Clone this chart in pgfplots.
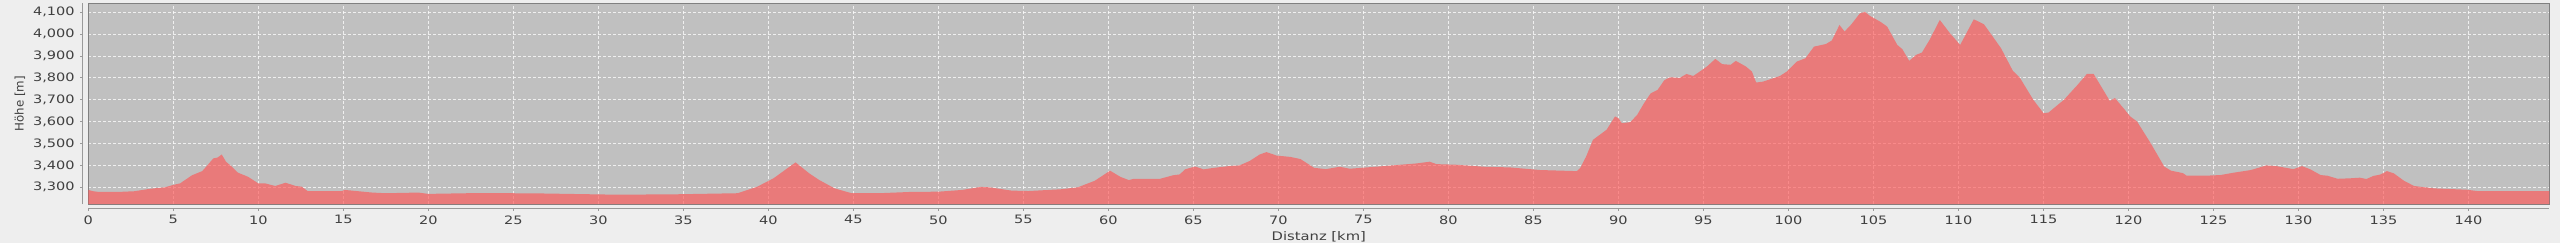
\documentclass[border=0pt]{standalone}
\usepackage{pgfplots}
\pgfplotsset{compat=1.18}
\usepackage{pgfplotstable}
\usepackage{fontspec}
\setmainfont{DejaVu Sans}[FakeStretch=1.25]
\newfontfamily\plainfont{DejaVu Sans}
\definecolor{bg}{HTML}{EEEEEE}
\definecolor{plotbg}{HTML}{C0C0C0}
\definecolor{series}{HTML}{FF5555}
\definecolor{txt}{HTML}{404040}
\definecolor{framegray}{HTML}{808080}
\definecolor{axisgray}{HTML}{9A9A9A}

\pgfplotstableread{
km m
0 3288
0.3 3282
0.6 3279
1.8 3279
2.7 3282
3.7 3294
4.5 3300
5.0 3311
5.4 3318
6.1 3355
6.7 3374
7.0 3400
7.35 3432
7.6 3436
7.85 3450
8.1 3417
8.4 3397
8.8 3367
9.4 3348
10.0 3318
10.4 3318
11.0 3306
11.6 3321
12.2 3306
12.55 3303
12.9 3283
14.9 3283
15.1 3288
16.7 3276
17.5 3273
19.4 3276
20 3270
23.1 3274
26.6 3272
30.5 3267
32.5 3267
34.5 3268
38.2 3273
39.35 3303
40.3 3341
41.6 3414
42.4 3364
43.0 3333
43.9 3295
44.9 3273
46.5 3273
48.4 3279
50.0 3280
51.4 3288
52.5 3302
53.0 3300
54.3 3285
55.3 3283
57.2 3291
58.2 3300
59.2 3330
60.1 3376
60.7 3348
61.2 3333
61.5 3339
62.3 3339
63.0 3338
63.8 3355
64.2 3359
64.5 3382
65.1 3395
65.6 3382
66.2 3389
67.2 3398
67.7 3400
68.3 3420
68.9 3450
69.3 3461
69.9 3445
70.7 3439
71.3 3429
72.1 3389
72.8 3383
73.6 3394
74.2 3385
76.2 3397
78.1 3409
78.9 3417
79.3 3406
80.5 3403
82.1 3394
83.6 3391
85.4 3379
87.55 3374
87.75 3388
88.1 3441
88.5 3517
88.9 3540
89.3 3563
89.8 3624
90.0 3616
90.2 3593
90.7 3598
91.1 3631
91.5 3684
91.9 3730
92.3 3745
92.7 3790
93.04 3803
93.6 3800
94.0 3818
94.4 3809
94.8 3830
95.2 3852
95.7 3887
96.1 3863
96.6 3860
96.9 3878
97.5 3852
97.85 3829
98.1 3779
98.5 3783
99.5 3809
99.9 3829
100.5 3875
101.0 3890
101.5 3943
102.2 3955
102.55 3971
103.0 4042
103.3 4012
103.7 4045
104.2 4095
104.5 4102
104.8 4083
105.4 4057
105.8 4035
106.4 3951
106.7 3931
107.1 3878
107.5 3905
107.85 3916
108.3 3974
108.9 4065
109.5 4004
110.1 3951
110.9 4068
111.5 4045
112.5 3936
113.2 3832
113.6 3802
114.4 3700
115.0 3639
115.3 3642
116.2 3700
117.0 3768
117.55 3818
117.95 3818
118.9 3695
119.2 3708
119.7 3662
120.1 3624
120.5 3601
121.3 3502
122.1 3395
122.5 3376
123.2 3365
123.4 3354
124.8 3354
125.4 3356
126.2 3367
127.2 3379
128.1 3400
128.7 3397
129.7 3383
130.2 3397
130.7 3382
131.3 3356
131.7 3353
132.3 3339
133.0 3341
133.6 3344
134.0 3338
134.4 3352
134.8 3358
135.2 3374
135.6 3364
136.2 3330
136.8 3306
138.0 3295
139.9 3289
140.5 3283
144.75 3283
}\profile

\begin{document}
\begin{tikzpicture}
\path[fill=bg, use as bounding box] (-44.15pt,-19.5pt) rectangle (1235.85pt,102pt);
\begin{axis}[
  name=ax,
  at={(0pt,0pt)}, anchor=south west,
  scale only axis, width=1230.5pt, height=100.35pt,
  xmin=0, xmax=144.75, ymin=3223.7, ymax=4141.1,
  xtick={0,5,...,140}, ytick={3300,3400,...,4100},
  major tick length=0pt,
  grid=major,
  grid style={white, opacity=0.75, line width=0.5pt, dash pattern=on 1.5pt off 1pt},
  axis background/.style={fill=plotbg},
  axis line style={draw=framegray, line width=0.5pt},
  /pgf/number format/assume math mode=true,
  /pgf/number format/1000 sep={,},
  every tick label/.append style={color=txt, font=\fontsize{5.8}{6.5}\selectfont},
  xticklabel style={anchor=north, inner sep=0pt, yshift=-5.5pt},
  yticklabel style={anchor=east, inner sep=0pt, xshift=-6.65pt},
  xlabel={Distanz [km]},
  ylabel={\plainfont Höhe [m]},
  xlabel style={at={(axis description cs:0.5,-0.1829)}, anchor=base, inner sep=0pt, color=txt, font=\fontsize{5.9}{6.5}\selectfont},
  ylabel style={at={(axis description cs:-0.02775,0.5)}, anchor=center, inner sep=0pt, color=txt, font=\fontsize{5.9}{6.5}\selectfont},
]
\addplot[draw=none, fill=series, fill opacity=0.65] table[x=km, y=m] {\profile} \closedcycle;
\end{axis}
\begin{axis}[
  at={(0pt,0pt)}, anchor=south west,
  scale only axis, width=1230.5pt, height=100.35pt,
  xmin=0, xmax=144.75, ymin=3223.7, ymax=4141.1,
  xtick={0,5,...,140}, ytick={3300,3400,...,4100},
  xticklabels={}, yticklabels={},
  axis lines=left,
  axis x line shift=2.15pt, axis y line shift=2.8pt,
  axis line style={-, draw=axisgray, line width=0.5pt},
  tick align=outside, major tick length=1.3pt,
  tick style={draw=axisgray, line width=0.5pt},
]
\end{axis}
\end{tikzpicture}
\end{document}
